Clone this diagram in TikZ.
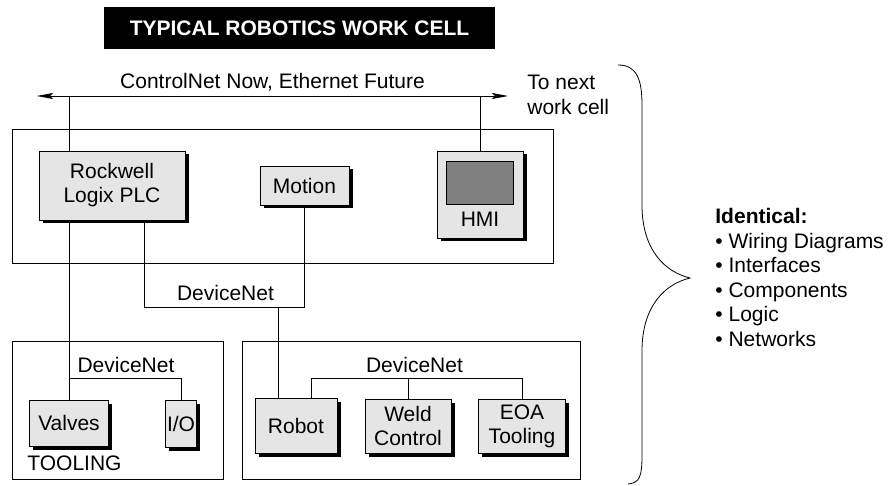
\documentclass[tikz,border=0pt]{standalone}
\usepackage{fontspec}
\setmainfont{Liberation Sans}
\usetikzlibrary{arrows.meta,positioning,shadows}

\begin{document}
\begin{tikzpicture}[x=1pt, y=-1pt, line width=0.8pt,
		every node/.style={font=\fontsize{21}{24}\selectfont, inner sep=0pt},
		cell/.style={draw},
		unit/.style={draw, fill=black!10, align=center,
			drop shadow={shadow xshift=3.5pt, shadow yshift=-3.5pt, fill=black, opacity=1}},
		bus/.style={anchor=base}]
	\useasboundingbox (0,0) rectangle (891,486);

	% title
	\node[fill=black, text=white, font=\fontsize{21}{24}\selectfont\bfseries,
		minimum width=391pt, minimum height=42pt] (title) at (299.5,28) {TYPICAL ROBOTICS WORK CELL};

	% cells
	\node[cell, minimum width=541pt, minimum height=134pt] (topcell) at (282.5,196) {};
	\node[cell, minimum width=211pt, minimum height=138pt] (toolcell) at (117.5,410) {};
	\node[cell, minimum width=338pt, minimum height=138pt] (robotcell) at (411,410) {};

	% units
	\node[unit, minimum width=146pt, minimum height=69pt] (plc) at (112,185.5) {Rockwell\\Logix PLC};
	\node[unit, minimum width=89pt, minimum height=39pt] (motion) at (304.5,185.5) {Motion};
	\node[unit, minimum width=86pt, minimum height=87pt] (hmi) at (480,194.5) {};
	\node[draw, fill=black!50, minimum width=67pt, minimum height=43pt, below=10pt of hmi.north] (screen) {};
	\node[bus] (hmitext) at (480,227) {HMI};
	\node[unit, minimum width=79pt, minimum height=46pt] (valves) at (69,423) {Valves};
	\node[unit, minimum width=31pt, minimum height=47pt] (io) at (181,423.5) {I/O};
	\node[unit, minimum width=82pt, minimum height=55pt] (robot) at (296,425.5) {Robot};
	\node[unit, minimum width=86pt, minimum height=54pt] (weld) at (408,426) {Weld\\Control};
	\node[unit, minimum width=87pt, minimum height=54pt] (eoa) at (522,426) {EOA\\Tooling};

	% texts
	\node[bus] (controlnet) at (272.5,89) {ControlNet Now, Ethernet Future};
	\node[anchor=base west] (tonext) at (527,90) {To next};
	\node[anchor=base west] (workcell) at (527,115) {work cell};
	\node[bus] (dnmid) at (225.5,300) {DeviceNet};
	\node[bus] (dnleft) at (126,372) {DeviceNet};
	\node[bus] (dnright) at (414.5,372) {DeviceNet};
	\node[anchor=base west] (tooling) at (27,470) {TOOLING};
	\node[anchor=base west, font=\fontsize{21}{24}\selectfont\bfseries] (identical) at (715,224) {Identical:};
	\node[anchor=base west] (same1) at (715,248.4) {• Wiring Diagrams};
	\node[anchor=base west] (same2) at (715,272.8) {• Interfaces};
	\node[anchor=base west] (same3) at (715,297.2) {• Components};
	\node[anchor=base west] (same4) at (715,321.6) {• Logic};
	\node[anchor=base west] (same5) at (715,346) {• Networks};

	% networks
	\coordinate (netL) at (37,96);
	\coordinate (netR) at (508,96);
	\coordinate (tapL) at (69,96);
	\coordinate (dnbus) at (144,307);
	\coordinate (robtap) at (278,307);
	\coordinate (lbus) at (69,378);
	\coordinate (rbus) at (311,378);

	\draw[{Stealth[length=16pt,width=6pt,inset=3pt]}-{Stealth[length=16pt,width=6pt,inset=3pt]}] (netL) -- (netR);
	\draw (tapL) -- (tapL |- plc.north);
	\draw (hmi.north |- netL) -- (hmi.north);
	\draw (valves.north |- plc.south) -- (valves.north);
	\draw (dnbus |- plc.south) -- (dnbus) -- (dnbus -| motion.south) -- (motion.south);
	\draw (robtap) -- (robtap |- robot.north);
	\draw (lbus) -- (lbus -| io.north) -- (io.north);
	\draw (rbus |- robot.north) -- (rbus) -- (rbus -| eoa.north) -- (eoa.north);
	\draw (rbus -| weld.north) -- (weld.north);

	% brace
	\draw (618,65) .. controls (636,65) and (642,78) .. (642,105) -- (642,205)
		.. controls (642,250) and (665,272) .. (690,278)
		.. controls (665,284) and (642,306) .. (642,351) -- (642,455)
		.. controls (642,476) and (640,483) .. (628,484);
\end{tikzpicture}
\end{document}
